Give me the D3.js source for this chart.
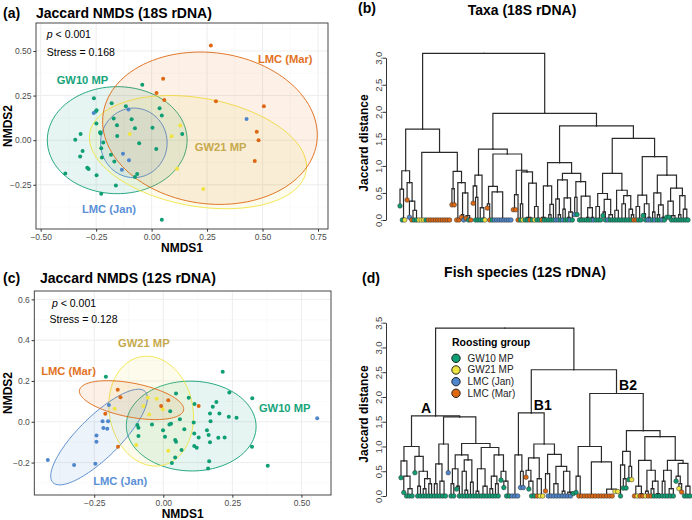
<!DOCTYPE html>
<html lang="en">
<head>
<meta charset="UTF-8">
<title>Jaccard NMDS and dendrograms</title>
<script src="https://d3js.org/d3.v7.min.js"></script>
<style>
  body { margin: 0; background: #fff; }
  svg { font-family: 'Liberation Sans', Arial, Helvetica, sans-serif; }
  .grid-major { stroke: #ebebeb; stroke-width: 0.9; }
  .grid-minor { stroke: #f5f5f5; stroke-width: 0.5; }
  .tick text { fill: #4d4d4d; font-size: 8.5px; }
  .tick line { stroke: #333; }
  .dendro .tick text { fill: #444; font-size: 9.5px; }
  .title { font-weight: bold; font-size: 14px; }
  .axis-title { font-weight: bold; font-size: 12px; }
  .group-label { font-weight: bold; font-size: 11.2px; }
  .note { font-size: 10.5px; }
</style>
</head>
<body>
<svg id="fig" width="692" height="520"></svg>
<script>
// Groups
const groups = ["GW10 MP", "GW21 MP", "LMC (Jan)", "LMC (Mar)"];
const groupCodes = ["G", "Y", "B", "O"];
const groupColors = ["#0E9E74", "#F0E442", "#4E86CC", "#DE6812"];
const labelColors = ["#17A47B", "#C6A94C", "#5A90D6", "#E2721F"];

// (a) NMDS 18S, points [NMDS1, NMDS2]
const nmds18S_gw10 = [[-0.042,0.311],[-0.26,0.235],[-0.18,0.207],[-0.248,0.168],[-0.252,0.161],[-0.116,0.19],
  [0.036,0.179],[0.046,0.138],[-0.09,0.117],[-0.171,0.121],[-0.249,0.093],[-0.075,0.067],[0.004,0.069],
  [-0.156,0.084],[-0.32,0.035],[-0.232,0.045],[-0.23,0.037],[-0.155,0.024],[0.138,0.035],[-0.344,0.002],
  [-0.218,-0.013],[-0.056,-0.017],[-0.311,-0.06],[-0.227,-0.045],[0.021,-0.049],[-0.183,-0.082],
  [-0.322,-0.091],[-0.224,-0.097],[-0.168,-0.119],[-0.29,-0.155],[-0.284,-0.162],[-0.389,-0.187],
  [-0.248,-0.196],[-0.065,-0.19],[-0.075,-0.207],[-0.161,-0.254],[-0.227,-0.3],[0.046,-0.446]];
const nmds18S_gw21 = [[0.129,0.082],[-0.098,0.034],[0.09,0.022],[0.115,-0.16],[0.233,-0.274]];
const nmds18S_jan = [[0.428,0.119],[-0.261,0.153],[-0.104,0.172],[-0.129,-0.076],[-0.102,-0.112],[-0.134,-0.166]];
const nmds18S_mar = [[0.267,0.531],[0.052,0.345],[0.022,0.265],[0.057,0.225],[0.29,0.218],[0.506,0.19],
  [0.474,0.047],[0.482,0.0],[0.465,-0.117]];
// ellipses: centre, semi-axes and angle (degrees) in NMDS units
const ellipses18S = [
  {cx: -0.155, cy: 0.0, a: 0.315, b: 0.30, angle: 0},
  {cx: 0.209, cy: -0.067, a: 0.50, b: 0.30, angle: -15},
  {cx: -0.08, cy: -0.015, a: 0.15, b: 0.195, angle: 0},
  {cx: 0.263, cy: 0.067, a: 0.49, b: 0.42, angle: -18}
];

// (c) NMDS 12S
const nmds12S_gw10 = [[-0.208,0.221],[0.215,0.245],[0.046,0.139],[0.239,0.144],[0.092,0.118],[0.322,0.115],
  [0.192,0.097],[0.113,0.087],[0.179,0.074],[0.025,0.052],[0.169,0.041],[0.203,0.041],[0.237,0.025],
  [0.265,0.02],[0.06,0.012],[-0.094,-0.016],[-0.041,-0.013],[0.022,-0.013],[0.028,-0.01],[0.11,-0.003],
  [0.171,0.003],[-0.09,-0.029],[-0.001,-0.041],[0.076,-0.037],[0.158,-0.041],[0.112,-0.057],[0.164,-0.065],
  [-0.09,-0.07],[0.006,-0.073],[0.128,-0.077],[0.222,-0.077],[0.199,-0.078],[0.043,-0.09],[0.046,-0.098],
  [0.169,-0.1],[0.112,-0.119],[0.121,-0.127],[0.321,-0.122],[0.066,-0.139],[0.043,-0.175],[0.166,-0.193],
  [0.031,-0.202],[0.378,-0.216],[0.162,-0.229]];
const nmds12S_gw21 = [[-0.056,0.118],[-0.024,0.113],[-0.072,0.077],[-0.176,0.064],[-0.002,0.061],
  [-0.051,0.036],[-0.098,-0.114],[0.018,-0.142]];
const nmds12S_jan = [[-0.197,0.082],[-0.22,0.002],[-0.2,0.002],[-0.217,-0.031],[-0.203,-0.034],[-0.242,-0.067],
  [-0.242,-0.098],[-0.418,-0.188],[-0.246,-0.206],[-0.323,-0.212],[0.557,0.017]];
const nmds12S_mar = [[-0.165,0.157],[-0.155,0.12],[0.018,0.106],[-0.008,0.077],[0.128,0.077],[-0.21,0.039],
  [-0.164,-0.122]];
const ellipses12S = [
  {cx: 0.101, cy: -0.021, a: 0.235, b: 0.22, angle: -5},
  {cx: -0.044, cy: 0.052, a: 0.27, b: 0.152, angle: 95},
  {cx: -0.2325, cy: -0.075, a: 0.28, b: 0.085, angle: 55},
  {cx: -0.115, cy: 0.106, a: 0.195, b: 0.082, angle: -16}
];

// Dendrograms: "(child,child)height", leaf = group letter, "^h" = leaf height,
// a run of letters = leaves joined at height 0
const b_L1 = "((G^0.26,(G,Y)0.03)0.57,(O^0.37,(B^0.05,((O,G)0.02,G)0.18)0.35)0.69)0.91";
const b_L2 = "(Y,(Y,(Y,(G,OOOOOOOOOO)0)0)0)0";
const b_L3 = "((O^0.28,O^0.28)0.58,((O,O)0.02,((O^0.05,B)0.1,(O^0.03,(G,O)0.02)0.08)0.5)0.69)0.9";
const b_RL1 = "((O^0.31,(G,G)0.42)0.63,(G,(G,Y)0.03)0.23)0.83";
const b_RL2a = "((O^0.22,O)0.3,(G,BBBBBBBB)0.52)0.62";
const b_RL2b = "(((O^0.19,O^0.19)0.21,O)0.47,((G,Y)0.3,(((G,G)0.02,(O,G)0.03)0.05,(Y,(G,G)0.03)0.25)0.68)0.89)0.92";
const b_RRL1 = "((O,(G,G)0.03)0.05,((G,G)0.1,G)0.29)0.63";
const b_RRL2a = "((B,(B,G)0.1)0.39,((B,G)0.2,((G,B)0.05,G)0.15)0.41)0.74";
const b_RRL2b = "((B^0.1,G^0.1)0.42,((G,(G,G)0.02)0.03,((G,G)0.05,(G,B)0.05)0.23)0.44)0.71";
const b_RRR1a = "((G,(G,G)0.02)0.25,((G^0.08,G)0.15,((B,G)0.03,G)0.1)0.38)0.49";
const b_RRR1b = "((G,(G,G)0.02)0.18,((G,(G,G)0.02)0.3,(G,(G,O)0.1)0.2)0.45)0.55";
const b_RRR2a = "((O,(G,G)0.02)0.25,((G^0.08,G)0.12,(B,B)0.05)0.3)0.46";
const b_RRR2b1 = "((G,B)0.15,((G,G)0.1,(B,G)0.05)0.28)0.5";
const b_RRR2b2 = "(((G^0.05,G^0.05)0.07,(G,(G,G)0.02)0.08)0.35,((G,G)0.1,(G,(G,G)0.03)0.2)0.45)0.59";
const taxaTree = `((${b_L1},(${b_L2},${b_L3})1.25)1.68,` +
  `((${b_RL1},(${b_RL2a},${b_RL2b})1.22)1.31,` +
  `((${b_RRL1},(${b_RRL2a},${b_RRL2b})0.86)1.06,` +
  `((${b_RRR1a},${b_RRR1b})0.86,(${b_RRR2a},(${b_RRR2b1},${b_RRR2b2})0.83)1.17)1.51)1.74)1.97)3.08`;

const d_A1a = "(G^0.37,(G^0.07,((G,G)0.02,G)0.15)0.4)0.71";
const d_A1b = "(G^0.47,((G,G)0.2,((G,G)0.15,(G,G)0.25)0.35)0.5)0.8";
const d_A2L = "(((G,G)0.25,(G,(G,G)0.02)0.3)0.65,B^0.47)1.05";
const d_A2Ra = "(((G,G)0.25,(G^0.14,G)0.2)0.55,((G,(G,G)0.12)0.5,(G,G)0.28)0.73)0.83";
const d_A2Rb = "(((G,G)0.1,((G,G)0.02,G)0.2)0.55,(((G,G)0.15,(G,G)0.25)0.4,(G^0.32,(G^0.17,(G,G)0.02)0.3)0.5)0.83)0.98";
const d_B1L = "(BBB,(B^0.17,B^0.17)0.5)0.83";
const d_B1Ra = "((O^0.38,(G^0.14,(G,G)0.03)0.3)0.52,(O,(Y,Y)0.03)0.35)0.77";
const d_B1Rb = "((O^0.1,(B,B)0.03)0.45,((B,(B,B)0.02)0.25,((B,B)0.1,(B,(B,G^0.05)0.06)0.08)0.5)0.6)0.84";
const d_B2La = "(G^0.07,OO)0.4";
const d_B2Lb = "(OOOOOO,(OOOOO,(Y^0.09,Y^0.09)0.12)0.14)0.69";
const d_B2Ra = "((G,(G^0.16,G^0.16)0.35)0.63,(G^0.33,Y^0.33)0.6)0.9";
const d_B2Rba = "(((O,Y)0.02,(O,O)0.05)0.2,((Y,O)0.1,((O,G)0.15,(G,G)0.05)0.3)0.52)0.72";
const d_B2Rbb = "(((G,G)0.3,((G,G)0.02,G)0.15)0.52,((G^0.3,(Y^0.15,O^0.08)0.25)0.4,((G,G)0.02,G)0.2)0.66)0.72";
const fishTree = `(((${d_A1a},${d_A1b})1.0,(${d_A2L},(${d_A2Ra},${d_A2Rb})1.06)1.6)1.62,` +
  `((${d_B1L},(${d_B1Ra},${d_B1Rb})1.05)1.68,` +
  `((${d_B2La},${d_B2Lb})1.0,(${d_B2Ra},(${d_B2Rba},${d_B2Rbb})1.2)1.32)2.07)2.55)3.39`;

const svg = d3.select("#fig");
const colorOf = code => groupColors[groupCodes.indexOf(code)];

function ellipsePath(e, x, y) {
  const rot = e.angle * Math.PI / 180;
  const pts = d3.range(0, 361, 3).map(t => {
    const r = t * Math.PI / 180, dx = e.a * Math.cos(r), dy = e.b * Math.sin(r);
    return [x(e.cx + dx * Math.cos(rot) - dy * Math.sin(rot)),
            y(e.cy + dx * Math.sin(rot) + dy * Math.cos(rot))];
  });
  return d3.line()(pts) + "Z";
}

function drawScatter(p) {
  const x = d3.scaleLinear().domain(p.xDomain).range([p.left, p.right]);
  const y = d3.scaleLinear().domain(p.yDomain).range([p.bottom, p.top]);
  const g = svg.append("g");

  g.selectAll(null).data(p.xMinor).join("line").attr("class", "grid-minor")
    .attr("x1", d => x(d)).attr("x2", d => x(d)).attr("y1", p.top).attr("y2", p.bottom);
  g.selectAll(null).data(p.yMinor).join("line").attr("class", "grid-minor")
    .attr("y1", d => y(d)).attr("y2", d => y(d)).attr("x1", p.left).attr("x2", p.right);
  g.selectAll(null).data(p.xMajor).join("line").attr("class", "grid-major")
    .attr("x1", d => x(d)).attr("x2", d => x(d)).attr("y1", p.top).attr("y2", p.bottom);
  g.selectAll(null).data(p.yMajor).join("line").attr("class", "grid-major")
    .attr("y1", d => y(d)).attr("y2", d => y(d)).attr("x1", p.left).attr("x2", p.right);

  p.ellipses.forEach((e, i) => {
    g.append("path").attr("d", ellipsePath(e, x, y))
      .attr("fill", groupColors[i]).attr("fill-opacity", 0.1)
      .attr("stroke", groupColors[i]).attr("stroke-width", 0.9);
  });
  p.series.forEach((s, i) => {
    g.append("g").selectAll("circle").data(s).join("circle")
      .attr("cx", d => x(d[0])).attr("cy", d => y(d[1])).attr("r", 2)
      .attr("fill", groupColors[i]);
  });

  g.append("rect").attr("x", p.left).attr("y", p.top)
    .attr("width", p.right - p.left).attr("height", p.bottom - p.top)
    .attr("fill", "none").attr("stroke", "#333").attr("stroke-width", 0.9);

  const ax = g.append("g").attr("transform", `translate(0,${p.bottom})`)
    .call(d3.axisBottom(x).tickValues(p.xMajor).tickFormat(p.xFmt).tickSize(2.7).tickPadding(2));
  ax.select(".domain").remove();
  const ay = g.append("g").attr("transform", `translate(${p.left},0)`)
    .call(d3.axisLeft(y).tickValues(p.yMajor).tickFormat(p.yFmt).tickSize(2.7).tickPadding(1.8));
  ay.select(".domain").remove();

  g.append("text").attr("class", "axis-title").attr("text-anchor", "middle")
    .attr("x", (p.left + p.right) / 2).attr("y", p.bottom + 23).text("NMDS1");
  g.append("text").attr("class", "axis-title").attr("text-anchor", "middle")
    .attr("transform", `translate(11.5,${(p.top + p.bottom) / 2}) rotate(-90)`).text("NMDS2");

  const pv = g.append("text").attr("class", "note")
    .attr("x", x(p.pPos[0])).attr("y", y(p.pPos[1])).attr("dy", "0.35em");
  pv.append("tspan").attr("font-style", "italic").text("p");
  pv.append("tspan").text(" < 0.001");
  g.append("text").attr("class", "note")
    .attr("x", x(p.stressPos[0])).attr("y", y(p.stressPos[1])).attr("dy", "0.35em")
    .text(p.stress);

  p.labels.forEach((l, i) => {
    g.append("text").attr("class", "group-label").attr("fill", labelColors[i])
      .attr("x", x(l[0])).attr("y", y(l[1])).attr("dy", "0.35em").text(groups[i]);
  });

  svg.append("text").attr("class", "title").attr("x", p.tagX).attr("y", p.titleY).text(p.tag);
  svg.append("text").attr("class", "title").attr("x", p.titleX).attr("y", p.titleY).text(p.title);
}

function parseTree(s) {
  let i = 0;
  const num = () => {
    const j = i;
    while (i < s.length && /[0-9.]/.test(s[i])) i++;
    return j === i ? 0 : +s.slice(j, i);
  };
  const node = () => {
    if (s[i] === "(") {
      i++;
      const children = [node()];
      while (s[i] === ",") { i++; children.push(node()); }
      i++;
      return {h: num(), children};
    }
    const j = i;
    while (i < s.length && /[GYBO]/.test(s[i])) i++;
    const run = s.slice(j, i);
    let h = 0;
    if (s[i] === "^") { i++; h = num(); }
    if (run.length === 1) return {g: run, h};
    return {h: 0, children: run.split("").map(c => ({g: c, h: 0}))};
  };
  return node();
}

function drawDendro(p) {
  const root = d3.hierarchy(parseTree(p.tree));
  const leaves = root.leaves();
  const x = d3.scalePoint().domain(d3.range(leaves.length)).range(p.xRange);
  const y = d3.scaleLinear().domain([0, p.yMax]).range([p.base, p.top]);
  leaves.forEach((l, i) => { l.px = x(i); });
  root.eachAfter(n => {
    if (n.children) n.px = (n.children[0].px + n.children[n.children.length - 1].px) / 2;
  });

  const g = svg.append("g").attr("class", "dendro");
  g.selectAll("path.edge").data(root.descendants().slice(1)).join("path")
    .attr("class", "edge")
    .attr("d", n => `M${n.px},${y(n.data.h)}V${y(n.parent.data.h)}H${n.parent.px}`)
    .attr("fill", "none").attr("stroke", "#2a2a2a").attr("stroke-width", 1.2)
    .attr("stroke-linecap", "square");
  g.selectAll("circle").data(leaves).join("circle")
    .attr("cx", n => n.px).attr("cy", n => y(n.data.h)).attr("r", 2.3)
    .attr("fill", n => colorOf(n.data.g)).attr("stroke", "#333").attr("stroke-width", 0.5);

  const ax = g.append("g").attr("transform", `translate(${p.axisX},0)`)
    .call(d3.axisLeft(y).tickValues(d3.range(0, p.yMax + 0.01, 0.5))
      .tickFormat(d3.format(".1f")).tickSize(3.5).tickSizeOuter(0));
  ax.select(".domain").attr("stroke", "#333");
  ax.selectAll(".tick text").attr("x", null).attr("dy", null).attr("y", 0)
    .attr("text-anchor", "middle").attr("transform", "translate(-4.5,0) rotate(-90)");

  g.append("text").attr("class", "axis-title").attr("text-anchor", "middle")
    .attr("transform", `translate(368,${p.labelY}) rotate(-90)`).text("Jaccard distance");
  svg.append("text").attr("class", "title").attr("x", p.tagX).attr("y", p.tagY).text(p.tag);
  svg.append("text").attr("class", "title").attr("text-anchor", "middle")
    .attr("x", p.titleX).attr("y", p.titleY).text(p.title);
  return {root, y};
}

drawScatter({
  left: 36, right: 328, top: 23, bottom: 229,
  xDomain: [-0.521, 0.795], yDomain: [-0.498, 0.657],
  xMajor: [-0.5, -0.25, 0, 0.25, 0.5, 0.75], xMinor: [-0.375, -0.125, 0.125, 0.375, 0.625],
  yMajor: [-0.25, 0, 0.25, 0.5], yMinor: [-0.375, -0.125, 0.125, 0.375, 0.625],
  xFmt: d3.format(".2f"), yFmt: d3.format(".2f"),
  series: [nmds18S_gw10, nmds18S_gw21, nmds18S_jan, nmds18S_mar],
  ellipses: ellipses18S,
  labels: [[-0.428, 0.336], [0.195, -0.039], [-0.314, -0.386], [0.479, 0.453]],
  pPos: [-0.472, 0.591], stressPos: [-0.472, 0.494], stress: "Stress = 0.168",
  tag: "(a)", tagX: 3, titleX: 36, titleY: 18, title: "Jaccard NMDS (18S rDNA)"
});

drawScatter({
  left: 34.3, right: 331, top: 291, bottom: 495,
  xDomain: [-0.467, 0.607], yDomain: [-0.359, 0.641],
  xMajor: [-0.25, 0, 0.25, 0.5], xMinor: [-0.375, -0.125, 0.125, 0.375],
  yMajor: [-0.2, 0, 0.2, 0.4, 0.6], yMinor: [-0.3, -0.1, 0.1, 0.3, 0.5],
  xFmt: d3.format(".2f"), yFmt: d3.format(".1f"),
  series: [nmds12S_gw10, nmds12S_gw21, nmds12S_jan, nmds12S_mar],
  ellipses: ellipses12S,
  labels: [[0.346, 0.066], [-0.164, 0.387], [-0.254, -0.289], [-0.442, 0.249]],
  pPos: [-0.403, 0.583], stressPos: [-0.412, 0.5], stress: "Stress = 0.128",
  tag: "(c)", tagX: 3, titleX: 40, titleY: 283, title: "Jaccard NMDS (12S rDNA)"
});

drawDendro({
  tree: taxaTree, xRange: [400, 688], yMax: 3.0, base: 220, top: 57.7, axisX: 386,
  labelY: 143, tag: "(b)", tagX: 358, tagY: 13, titleX: 522, titleY: 14.5,
  title: "Taxa (18S rDNA)"
});

const fish = drawDendro({
  tree: fishTree, xRange: [401, 690], yMax: 3.5, base: 496, top: 322.7, axisX: 386,
  labelY: 414, tag: "(d)", tagX: 362, tagY: 283, titleX: 525, titleY: 277,
  title: "Fish species (12S rDNA)"
});

// clade labels next to their nodes
const nodeA = fish.root.children[0];
const nodeB1 = fish.root.children[1].children[0];
const nodeB2 = fish.root.children[1].children[1];
[[nodeA, "A", -9.5], [nodeB1, "B1", 11.5], [nodeB2, "B2", 11.5]].forEach(([n, t, dx]) => {
  svg.append("text").attr("class", "title").attr("text-anchor", "middle")
    .attr("x", n.px + dx).attr("y", fish.y(n.data.h) - 8).attr("dy", "0.35em").text(t);
});

// legend
const legend = svg.append("g").attr("transform", "translate(452,0)");
legend.append("text").attr("x", 0).attr("y", 345.5)
  .attr("font-weight", "bold").attr("font-size", "10.5px").text("Roosting group");
const legendY = d3.scalePoint().domain(groups).range([358.3, 393.3]);
groups.forEach((gname, i) => {
  legend.append("circle").attr("cx", 4).attr("cy", legendY(gname)).attr("r", 4.2)
    .attr("fill", groupColors[i]).attr("stroke", "#222").attr("stroke-width", 1);
  legend.append("text").attr("x", 15.5).attr("y", legendY(gname)).attr("dy", "0.35em")
    .attr("font-size", "10px").attr("fill", "#222").text(gname);
});
</script>
</body>
</html>
